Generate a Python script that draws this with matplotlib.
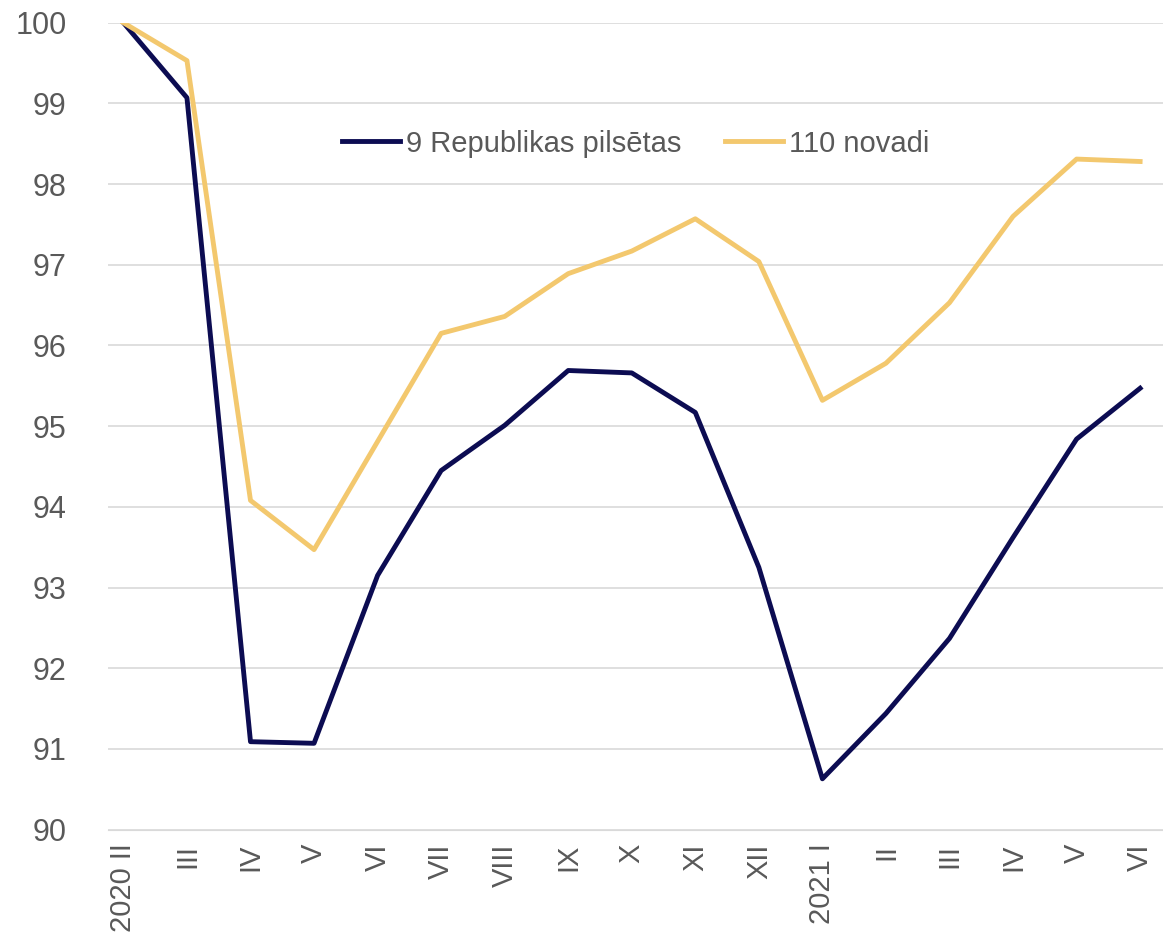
import matplotlib.pyplot as plt

labels = ["2020 II", "III", "IV", "V", "VI", "VII", "VIII", "IX", "X", "XI", "XII",
          "2021 I", "II", "III", "IV", "V", "VI"]
cities = [100, 99.07, 91.09, 91.07, 93.15, 94.45, 95.01, 95.69, 95.66, 95.17, 93.25,
          90.63, 91.44, 92.37, 93.62, 94.84, 95.47]
novadi = [100, 99.53, 94.08, 93.47, 94.81, 96.15, 96.36, 96.89, 97.17, 97.57, 97.04,
          95.32, 95.78, 96.53, 97.6, 98.31, 98.28]

plt.rcParams['font.family'] = ['Liberation Sans', 'DejaVu Sans']
fig = plt.figure(figsize=(11.63, 9.46), dpi=100)
ax = fig.add_axes([0.093, 0.123, 0.907, 0.853])
x = range(len(labels))
ax.plot(x, cities, color="#0c0c52", lw=3.5, label="9 Republikas pilsētas")
ax.plot(x, novadi, color="#f3c86e", lw=3.5, label="110 novadi")
ax.set_ylim(90, 100)
ax.set_xlim(-0.24, 16.36)
ax.set_yticks(range(90, 101))
ax.set_xticks(list(x))
ax.set_xticklabels(labels, rotation=90, fontsize=21, color="#595959")
ax.tick_params(axis='y', labelsize=22, colors="#595959", length=0, pad=30)
ax.tick_params(axis='x', length=0, pad=10)
ax.grid(axis='y', color="#d9d9d9", lw=1.2)
ax.set_axisbelow(True)
for s in ["top", "right", "left"]:
    ax.spines[s].set_visible(False)
ax.spines["bottom"].set_color("#d9d9d9")
ax.legend(loc="upper center", bbox_to_anchor=(0.5, 0.9), ncol=2, frameon=False,
          fontsize=21, labelcolor="#595959", handlelength=2.0, handletextpad=0.2,
          columnspacing=1.5)
fig.savefig("out.png")
